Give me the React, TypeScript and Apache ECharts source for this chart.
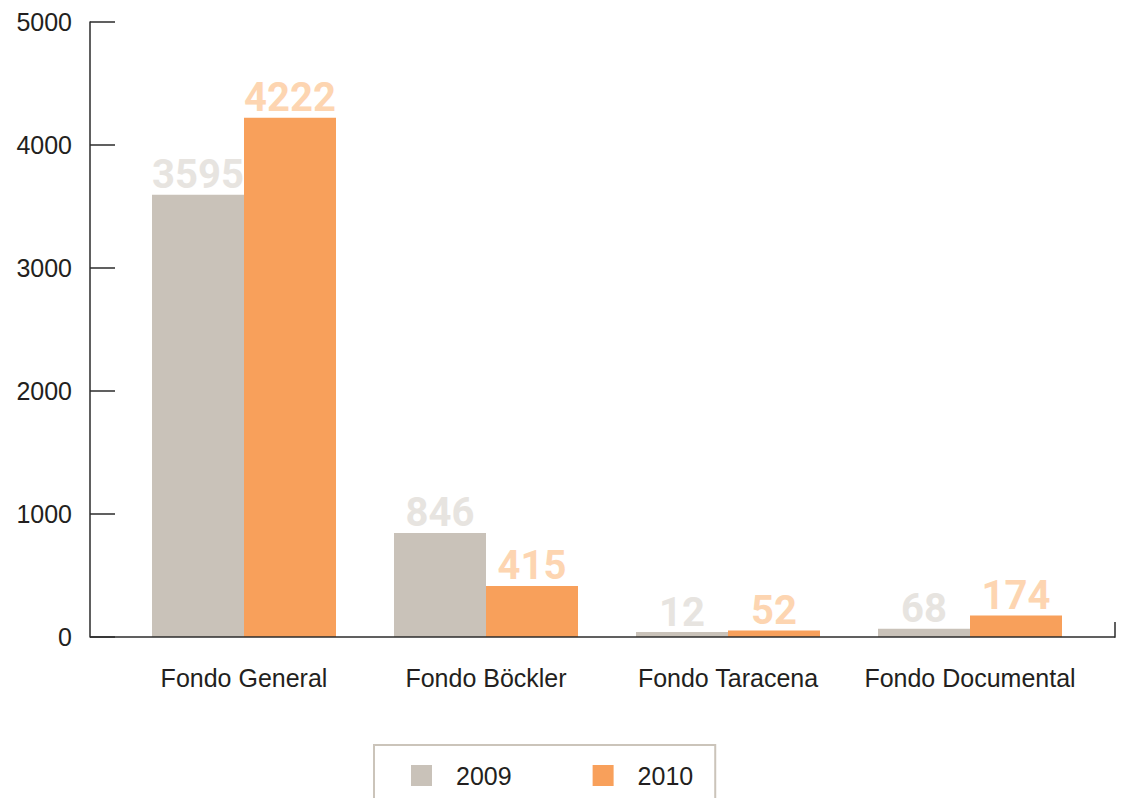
import React, { useEffect, useRef } from "react";
import * as echarts from "echarts";

const categories = ["Fondo General", "Fondo Böckler", "Fondo Taracena", "Fondo Documental"];
const values2009 = [3595, 846, 12, 68];
const values2010 = [4222, 415, 52, 174];
const seriesNames = ["2009", "2010"];
const yTicks = { min: 0, max: 5000, interval: 1000 };

const COLOR_2009 = "#c9c2b9";
const COLOR_2010 = "#f8a05b";
const LABEL_2009 = "#e7e4e0";
const LABEL_2010 = "#fdd5b1";
const AXIS = "#2b2b2b";
const TEXT = "#231f20";

export default function App() {
  const ref = useRef<HTMLDivElement>(null);
  useEffect(() => {
    document.body.style.margin = "0";
    const chart = echarts.init(ref.current!, null, { renderer: "svg" });
    const labelFont = {
      fontFamily: "Roboto",
      fontWeight: "bold" as const,
      fontSize: 40,
    };
    chart.setOption({
      animation: false,
      backgroundColor: "#ffffff",
      grid: { left: 123, right: 31, top: 22, bottom: 161, containLabel: false },
      xAxis: {
        type: "category",
        data: categories,
        axisLine: { show: false },
        axisTick: { show: false },
        axisLabel: {
          interval: 0,
          fontFamily: "Liberation Sans",
          fontSize: 25,
          color: TEXT,
          margin: 28,
        },
      },
      yAxis: {
        type: "value",
        min: yTicks.min,
        max: yTicks.max,
        interval: yTicks.interval,
        offset: 33,
        axisLine: { show: true, lineStyle: { color: AXIS, width: 1.5 } },
        axisTick: { show: true, inside: true, length: 25, lineStyle: { color: AXIS, width: 1.5 } },
        axisLabel: {
          fontFamily: "Liberation Sans",
          fontSize: 25,
          color: TEXT,
          margin: 18,
          formatter: (v: number) => String(v),
        },
        splitLine: { show: false },
      },
      legend: {
        left: 374,
        top: 745,
        orient: "horizontal",
        icon: "rect",
        itemWidth: 21,
        itemHeight: 21,
        itemGap: 81,
        borderColor: "#cbc4ba",
        borderWidth: 2,
        padding: [18, 22, 40, 37],
        textStyle: {
          fontFamily: "Liberation Sans",
          fontSize: 25,
          color: TEXT,
          padding: [0, 0, 0, 19],
        },
        data: seriesNames,
      },
      graphic: [
        {
          type: "line",
          shape: { x1: 90, y1: 637, x2: 1115, y2: 637 },
          style: { stroke: AXIS, lineWidth: 1.5 },
          z: 10,
        },
        {
          type: "line",
          shape: { x1: 1115, y1: 622, x2: 1115, y2: 637.75 },
          style: { stroke: AXIS, lineWidth: 1.5 },
          z: 10,
        },
      ],
      series: [
        {
          name: seriesNames[0],
          type: "bar",
          data: values2009,
          barWidth: 92,
          barGap: "0%",
          barMinHeight: 5,
          itemStyle: { color: COLOR_2009 },
          label: { show: true, position: "top", distance: 0, color: LABEL_2009, ...labelFont },
        },
        {
          name: seriesNames[1],
          type: "bar",
          data: values2010,
          barWidth: 92,
          barGap: "0%",
          barMinHeight: 5,
          itemStyle: { color: COLOR_2010 },
          label: { show: true, position: "top", distance: 0, color: LABEL_2010, ...labelFont },
        },
      ],
    });
    return () => chart.dispose();
  }, []);
  return <div ref={ref} style={{ width: 1122, height: 798 }} />;
}
